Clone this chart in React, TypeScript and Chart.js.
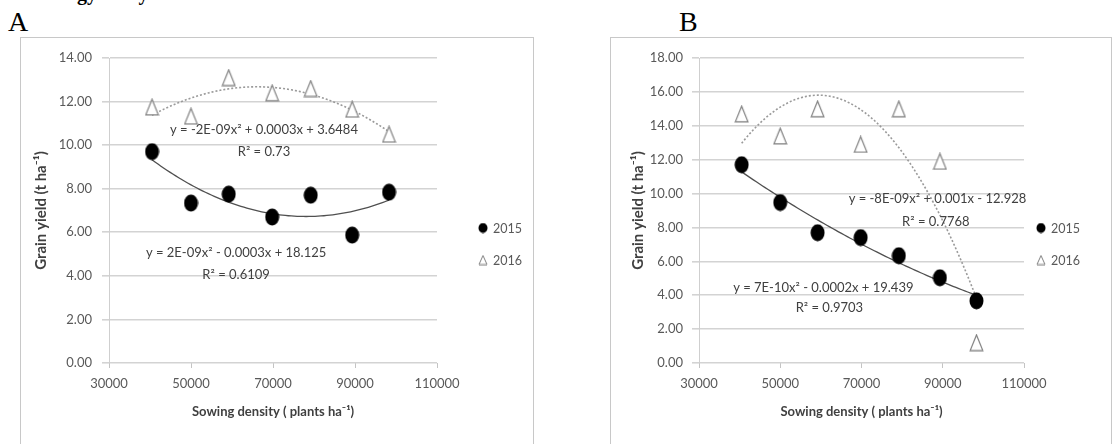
import React, { useEffect, useRef } from "react";
import { Chart, registerables } from "chart.js";

Chart.register(...registerables);

// ---------- data ----------
const DENSITY = [40500, 50000, 59200, 69800, 79200, 89300, 98300];
const A_YIELD_2015 = [9.7, 7.34, 7.75, 6.7, 7.7, 5.87, 7.84];
const A_YIELD_2016 = [11.75, 11.33, 13.1, 12.4, 12.6, 11.65, 10.5];
const B_YIELD_2015 = [11.7, 9.47, 7.69, 7.4, 6.33, 5.03, 3.67];
const B_YIELD_2016 = [14.7, 13.4, 15.0, 12.9, 15.0, 11.9, 1.2];
const SERIES_LABELS = ["2015", "2016"];
const X_MIN = 30000;
const X_MAX = 110000;
const X_STEP = 20000;
const A_Y_MAX = 14;
const B_Y_MAX = 18;
const Y_STEP = 2;
const A_EQUATIONS = [
  "y = -2E-09x² + 0.0003x + 3.6484",
  "R² = 0.73",
  "y = 2E-09x² - 0.0003x + 18.125",
  "R² = 0.6109",
];
const B_EQUATIONS = [
  "y = -8E-09x² + 0.001x - 12.928",
  "R² = 0.7768",
  "y = 7E-10x² - 0.0002x + 19.439",
  "R² = 0.9703",
];
const Y_TITLE = "Grain yield (t ha⁻¹)";
const X_TITLE = "Sowing density ( plants ha⁻¹)";
const TOP_TEXT = "Phenology analysis";

// ---------- styles ----------
const FONT = "Lato, 'Liberation Sans', sans-serif";
const TICK_COLOR = "#595959";
const TITLE_COLOR = "#404040";
const GRID_COLOR = "#d3d3d3";

// quadratic least-squares trendline (as the spreadsheet computes it)
function quadFit(xs: number[], ys: number[]) {
  const u = xs.map((x) => x / 10000);
  const S = [0, 0, 0, 0, 0];
  const T = [0, 0, 0];
  u.forEach((v, i) => {
    for (let k = 0; k <= 4; k++) S[k] += Math.pow(v, k);
    for (let k = 0; k <= 2; k++) T[k] += Math.pow(v, k) * ys[i];
  });
  const M = [
    [S[0], S[1], S[2], T[0]],
    [S[1], S[2], S[3], T[1]],
    [S[2], S[3], S[4], T[2]],
  ];
  for (let c = 0; c < 3; c++) {
    for (let r = c + 1; r < 3; r++) {
      const f = M[r][c] / M[c][c];
      for (let k = c; k < 4; k++) M[r][k] -= f * M[c][k];
    }
  }
  const s = [0, 0, 0];
  for (let r = 2; r >= 0; r--) {
    let v = M[r][3];
    for (let k = r + 1; k < 3; k++) v -= M[r][k] * s[k];
    s[r] = v / M[r][r];
  }
  return (x: number) => {
    const v = x / 10000;
    return s[0] + s[1] * v + s[2] * v * v;
  };
}

function trendPoints(xs: number[], ys: number[]) {
  const f = quadFit(xs, ys);
  const x0 = xs[0];
  const x1 = xs[xs.length - 1];
  const n = 80;
  const pts: { x: number; y: number }[] = [];
  for (let i = 0; i <= n; i++) {
    const x = x0 + ((x1 - x0) * i) / n;
    pts.push({ x, y: f(x) });
  }
  return pts;
}

function makeEllipse(w: number, h: number, fill: string) {
  const c = document.createElement("canvas");
  c.width = w;
  c.height = h;
  const g = c.getContext("2d")!;
  g.fillStyle = fill;
  g.beginPath();
  g.ellipse(w / 2, h / 2, w / 2 - 0.5, h / 2 - 0.5, 0, 0, Math.PI * 2);
  g.fill();
  return c;
}

function makeTriangle(w: number, h: number, stroke: string, lw: number) {
  const c = document.createElement("canvas");
  c.width = w;
  c.height = h;
  const g = c.getContext("2d")!;
  g.beginPath();
  g.moveTo(w / 2, lw);
  g.lineTo(w - lw, h - lw);
  g.lineTo(lw, h - lw);
  g.closePath();
  g.fillStyle = "#ffffff";
  g.fill();
  g.strokeStyle = stroke;
  g.lineWidth = lw;
  g.stroke();
  return c;
}

const legendPlugin = {
  id: "sideLegend",
  afterDraw(chart: any, _args: any, opts: any) {
    const { ctx, chartArea } = chart;
    ctx.save();
    ctx.font = `12.5px ${FONT}`;
    ctx.fillStyle = TICK_COLOR;
    ctx.textAlign = "left";
    ctx.textBaseline = "middle";
    opts.items.forEach((it: any, i: number) => {
      const x = chartArea.right + opts.offsetX;
      const y = chartArea.top + opts.firstY + i * opts.gapY;
      const img = it.marker;
      ctx.drawImage(img, x - img.width / 2, y - img.height / 2);
      ctx.fillText(it.text, x + 10, y + 1);
    });
    ctx.restore();
  },
};

const notesPlugin = {
  id: "equationNotes",
  afterDatasetsDraw(chart: any, _args: any, opts: any) {
    const { ctx, scales } = chart;
    ctx.save();
    ctx.font = `13px ${FONT}`;
    ctx.fillStyle = TITLE_COLOR;
    ctx.textAlign = "center";
    ctx.textBaseline = "middle";
    opts.notes.forEach((n: any) => {
      ctx.fillText(n.text, scales.x.getPixelForValue(n.x), scales.y.getPixelForValue(n.y));
    });
    ctx.restore();
  },
};

type PanelCfg = {
  left: number;
  width: number;
  yMax: number;
  y2015: number[];
  y2016: number[];
  equations: string[];
  notePos: { x: number; y: number }[];
  padRight: number;
  yTitlePad: number;
  yTickPad: number;
  legendX: number;
};

function Panel({ cfg }: { cfg: PanelCfg }) {
  const ref = useRef<HTMLCanvasElement>(null);
  useEffect(() => {
    const dot = makeEllipse(15, 18, "#000000");
    const tri = makeTriangle(15, 18, "#808080", 1.2);
    const legDot = makeEllipse(10, 11, "#000000");
    const legTri = makeTriangle(10, 11, "#808080", 1);
    const pts = (ys: number[]) => DENSITY.map((x, i) => ({ x, y: ys[i] }));
    const chart = new Chart(ref.current!, {
      type: "scatter",
      data: {
        datasets: [
          {
            label: SERIES_LABELS[0],
            data: pts(cfg.y2015),
            pointStyle: dot as any,
            pointRadius: 9,
            order: 1,
          },
          {
            label: SERIES_LABELS[1],
            data: pts(cfg.y2016),
            pointStyle: tri as any,
            pointRadius: 9,
            order: 1,
          },
          {
            label: "trend 2015",
            data: trendPoints(DENSITY, cfg.y2015),
            showLine: true,
            pointRadius: 0,
            borderColor: "#505050",
            borderWidth: 1.3,
            tension: 0,
            order: 2,
          } as any,
          {
            label: "trend 2016",
            data: trendPoints(DENSITY, cfg.y2016),
            showLine: true,
            pointRadius: 0,
            borderColor: "#9a9a9a",
            borderWidth: 1.6,
            borderDash: [2, 2],
            tension: 0,
            order: 2,
          } as any,
        ],
      },
      options: {
        responsive: false,
        animation: false,
        devicePixelRatio: 1,
        events: [],
        layout: { padding: { top: 20, right: cfg.padRight, left: 0, bottom: 0 } },
        plugins: {
          legend: { display: false },
          tooltip: { enabled: false },
          sideLegend: {
            offsetX: cfg.legendX,
            firstY: 170,
            gapY: 32,
            items: [
              { text: SERIES_LABELS[0], marker: legDot },
              { text: SERIES_LABELS[1], marker: legTri },
            ],
          },
          equationNotes: {
            notes: cfg.equations.map((t, i) => ({ text: t, ...cfg.notePos[i] })),
          },
        } as any,
        scales: {
          x: {
            type: "linear",
            min: X_MIN,
            max: X_MAX,
            afterFit: (s: any) => {
              s.height = 81;
            },
            ticks: {
              stepSize: X_STEP,
              padding: 8,
              color: TICK_COLOR,
              font: { family: FONT, size: 13 },
              callback: (v: any) => String(v),
              maxRotation: 0,
            },
            grid: {
              drawOnChartArea: false,
              drawTicks: true,
              tickLength: 5,
              color: "#c4c4c4",
            },
            border: { display: false },
            title: {
              display: true,
              text: X_TITLE,
              color: TITLE_COLOR,
              font: { family: FONT, size: 13, weight: "bold" },
              padding: { top: 0, bottom: 24 },
            },
          },
          y: {
            type: "linear",
            min: 0,
            max: cfg.yMax,
            afterFit: (s: any) => {
              s.width = 88;
            },
            ticks: {
              stepSize: Y_STEP,
              padding: cfg.yTickPad,
              color: TICK_COLOR,
              font: { family: FONT, size: 13 },
              callback: (v: any) => Number(v).toFixed(2),
            },
            grid: {
              color: GRID_COLOR,
              lineWidth: 1.6,
              drawTicks: true,
              tickLength: 7,
            },
            border: { display: true, color: "#cfcfcf", width: 1 },
            title: {
              display: true,
              text: Y_TITLE,
              color: TITLE_COLOR,
              font: { family: FONT, size: 15, weight: "bold" },
              padding: { top: cfg.yTitlePad, bottom: 0 },
            },
          },
        },
      },
      plugins: [legendPlugin, notesPlugin],
    });
    return () => chart.destroy();
  }, []);
  return (
    <div
      style={{
        position: "absolute",
        left: cfg.left,
        top: 37,
        width: cfg.width,
        height: 420,
        border: "1px solid #c8c8c8",
        borderBottom: "none",
      }}
    >
      <canvas ref={ref} width={cfg.width} height={406} style={{ display: "block" }} />
    </div>
  );
}

const PANEL_A: PanelCfg = {
  left: 20,
  width: 512,
  yMax: A_Y_MAX,
  y2015: A_YIELD_2015,
  y2016: A_YIELD_2016,
  equations: A_EQUATIONS,
  notePos: [
    { x: 67800, y: 10.7 },
    { x: 67800, y: 9.68 },
    { x: 61000, y: 5.05 },
    { x: 61000, y: 4.04 },
  ],
  padRight: 96,
  yTitlePad: 11,
  yTickPad: 10,
  legendX: 46,
};

const PANEL_B: PanelCfg = {
  left: 610,
  width: 500,
  yMax: B_Y_MAX,
  y2015: B_YIELD_2015,
  y2016: B_YIELD_2016,
  equations: B_EQUATIONS,
  notePos: [
    { x: 88700, y: 9.71 },
    { x: 88300, y: 8.35 },
    { x: 60600, y: 4.44 },
    { x: 62100, y: 3.26 },
  ],
  padRight: 87,
  yTitlePad: 18,
  yTickPad: 9,
  legendX: 17,
};

export default function App() {
  return (
    <div style={{ position: "absolute", left: 0, top: 0, width: 1112, height: 444, overflow: "hidden", background: "#fff" }}>
      <div
        style={{
          position: "absolute",
          left: 8,
          top: -17,
          fontFamily: "'Liberation Serif', serif",
          fontWeight: "bold",
          fontSize: 20,
          lineHeight: "20px",
          whiteSpace: "nowrap",
        }}
      >
        {TOP_TEXT}
      </div>
      <div style={{ position: "absolute", left: 8, top: 8, fontFamily: "'Liberation Serif', serif", fontSize: 28, lineHeight: "28px" }}>A</div>
      <div style={{ position: "absolute", left: 679, top: 8, fontFamily: "'Liberation Serif', serif", fontSize: 28, lineHeight: "28px" }}>B</div>
      <Panel cfg={PANEL_A} />
      <Panel cfg={PANEL_B} />
    </div>
  );
}
